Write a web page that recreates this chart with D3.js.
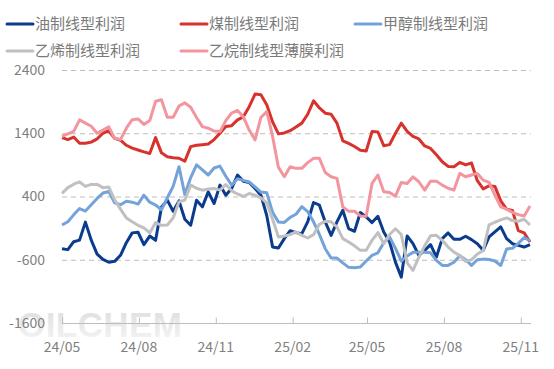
<!DOCTYPE html>
<html>
<head>
<meta charset="utf-8">
<script src="https://cdn.jsdelivr.net/npm/d3@7"></script>
<style>
  body { margin: 0; background: #fff; }
  svg { display: block; font-family: "Microsoft YaHei", "Noto Sans CJK SC", sans-serif; }
</style>
</head>
<body>
<div id="chartArea"></div>
<script>
// weekly profit series (81 weeks from 2024-05-01)
const seriesNames = ["油制线型利润", "煤制线型利润", "甲醇制线型利润", "乙烯制线型利润", "乙烷制线型薄膜利润"];
const seriesColors = ["#0b3b8c", "#d7322b", "#74a3d9", "#c0c0c0", "#f3959f"];

const oilProfit = [-425, -440, -315, -290, -5, -290, -510, -594, -640, -625, -530, -330, -175, -165, -360, -225, -293, 230, 342, 167,
  330, 40, -55, 342, 236, 474, 289, 580, 421, 527, 739, 640, 622, 527, 421, 100, -399, -415, -266, -140,
  -171, -187, -2, 305, 263, -2, -214, -2, 183, -108, -150, 146, 77, -12, 88, -161, -319, -637, -875, -224,
  -346, -531, -451, -362, -557, -266, -176, -277, -277, -229, -282, -346, -451, -240, -161, -81, -266, -346, -372, -399, -362];
const coalProfit = [1330, 1300, 1340, 1241, 1241, 1260, 1310, 1400, 1440, 1320, 1290, 1210, 1165, 1135, 1105, 1080, 1331, 1090, 1030, 1014,
  1005, 960, 1188, 1210, 1220, 1230, 1300, 1400, 1506, 1520, 1612, 1660, 1820, 2019, 2010, 1850, 1580, 1390, 1405, 1440,
  1500, 1560, 1700, 1913, 1800, 1717, 1700, 1560, 1280, 1240, 1190, 1130, 1120, 1426, 1420, 1204, 1220, 1400, 1559, 1430,
  1350, 1310, 1199, 1160, 1060, 950, 875, 871, 940, 900, 930, 650, 520, 569, 560, 330, 200, 180, -140, -175, -320];
const methanolProfit = [-50, 0, 110, 210, 170, 270, 370, 455, 480, 300, 270, 326, 310, 280, 421, 310, 265, 190, 380, 560,
  871, 430, 700, 900, 820, 740, 850, 880, 720, 580, 680, 655, 630, 553, 470, 460, 150, -5, -10, 70,
  120, 240, 160, 0, -200, -425, -573, -573, -650, -720, -725, -715, -620, -530, -490, -330, -240, -420, -620, -540,
  -483, -483, -483, -490, -610, -690, -690, -640, -535, -600, -690, -600, -590, -595, -620, -690, -430, -420, -340, -250, -300];
const ethyleneProfit = [450, 540, 595, 630, 560, 591, 591, 540, 550, 350, 200, 62, 0, -55, -97, -176, -12, -55, -50, 62,
  316, 345, 580, 530, 500, 517, 527, 501, 590, 490, 440, 400, 448, 421, 380, 300, 40, -240, -224, -203,
  -161, -214, -256, -203, -40, 9, 0, -81, -266, -319, -380, -451, -451, -293, -170, -346, -200, -110, -200, -650,
  -769, -560, -380, -220, -214, -293, -400, -480, -535, -626, -600, -510, -456, -50, -7, 30, 62, 20, 9, 40, -50];
const ethaneFilmProfit = [1350, 1390, 1430, 1612, 1560, 1510, 1400, 1450, 1500, 1320, 1300, 1480, 1615, 1627, 1540, 1600, 1905, 1929, 1654, 1654,
  1830, 1880, 1810, 1650, 1505, 1480, 1435, 1426, 1600, 1720, 1760, 1660, 1450, 1294, 1650, 1744, 1350, 860, 712, 870,
  845, 845, 935, 1003, 1003, 780, 712, 686, 236, 167, 167, 93, 88, 606, 739, 474, 463, 406, 622, 606,
  712, 633, 501, 643, 643, 580, 530, 501, 765, 712, 740, 765, 659, 622, 421, 236, 199, 150, 114, 93, 250];

const startDate = new Date(2024, 4, 1);
const weeks = d3.range(oilProfit.length).map((i) => d3.timeDay.offset(startDate, i * 7));

const yTicks = [2400, 1400, 400, -600, -1600];
const xTickDates = [new Date(2024, 4, 1), new Date(2024, 7, 1), new Date(2024, 10, 1), new Date(2025, 1, 1),
  new Date(2025, 4, 1), new Date(2025, 7, 1), new Date(2025, 10, 1)];

const allSeries = [oilProfit, coalProfit, methanolProfit, ethyleneProfit, ethaneFilmProfit];

const width = 554;
const height = 369;
const margin = { top: 70, right: 23, bottom: 46, left: 62 };

const svg = d3.select("#chartArea").append("svg")
  .attr("width", width)
  .attr("height", height);

const xScale = d3.scaleTime()
  .domain([weeks[0], weeks[weeks.length - 1]])
  .range([margin.left, width - margin.right - 1]);

const yScale = d3.scaleLinear()
  .domain([-1600, 2400])
  .range([height - margin.bottom, margin.top]);

// watermark
const defs = svg.append("defs");
const grad = defs.append("linearGradient")
  .attr("id", "wm").attr("x1", 0).attr("y1", 0).attr("x2", 0).attr("y2", 1);
grad.append("stop").attr("offset", "0%").attr("stop-color", "#dcdcdc");
grad.append("stop").attr("offset", "100%").attr("stop-color", "#f6f6f6");
svg.append("text")
  .attr("x", 18)
  .attr("y", 337)
  .attr("font-family", "Liberation Sans, Arial, sans-serif")
  .attr("font-weight", "bold")
  .attr("font-size", 35)
  .attr("fill", "url(#wm)")
  .attr("textLength", 164)
  .text("OILCHEM");

// grid lines
svg.append("g")
  .selectAll("line")
  .data(yTicks.filter((d) => d !== -1600))
  .join("line")
  .attr("x1", margin.left)
  .attr("x2", width - margin.right)
  .attr("y1", (d) => yScale(d) + 0.5)
  .attr("y2", (d) => yScale(d) + 0.5)
  .attr("stroke", "#bdbdbd")
  .attr("stroke-dasharray", "5,4");

// y labels
svg.append("g")
  .selectAll("text")
  .data(yTicks)
  .join("text")
  .attr("x", 45)
  .attr("y", (d) => yScale(d))
  .attr("dy", "0.35em")
  .attr("text-anchor", "end")
  .attr("font-size", 14)
  .attr("fill", "#808080")
  .text((d) => d);

// x axis
const xAxis = svg.append("g")
  .attr("transform", `translate(0, ${yScale(-1600) + 0.5})`)
  .call(d3.axisTop(xScale).tickValues(xTickDates).tickSize(6).tickFormat(() => ""));
xAxis.select(".domain").attr("stroke", "#bdbdbd").attr("d", `M${margin.left},0H${width - margin.right}`);
xAxis.selectAll(".tick line").attr("stroke", "#bdbdbd");

svg.append("g")
  .selectAll("text")
  .data(xTickDates)
  .join("text")
  .attr("x", (d) => xScale(d))
  .attr("y", 352)
  .attr("text-anchor", "middle")
  .attr("font-size", 14)
  .attr("fill", "#808080")
  .text((d) => d3.timeFormat("%y/%m")(d));

// lines
const line = d3.line()
  .x((d, i) => xScale(weeks[i]))
  .y((d) => yScale(d));

svg.append("g")
  .selectAll("path")
  .data(allSeries)
  .join("path")
  .attr("d", (d) => line(d))
  .attr("fill", "none")
  .attr("stroke", (d, i) => seriesColors[i])
  .attr("stroke-width", 3)
  .attr("stroke-linejoin", "round");

// legend
const legendPos = [[7, 24], [181, 24], [355, 24], [7, 51], [181, 51]];
const legend = svg.append("g")
  .selectAll("g")
  .data(seriesNames)
  .join("g")
  .attr("transform", (d, i) => `translate(${legendPos[i][0]}, ${legendPos[i][1]})`);

legend.append("line")
  .attr("x1", 0).attr("x2", 26)
  .attr("stroke", (d, i) => seriesColors[i])
  .attr("stroke-width", 3)
  .attr("stroke-linecap", "round");

legend.append("text")
  .attr("x", 28)
  .attr("dy", "0.35em")
  .attr("font-size", 15)
  .attr("fill", "#7a7a7a")
  .text((d) => d);
</script>
</body>
</html>
